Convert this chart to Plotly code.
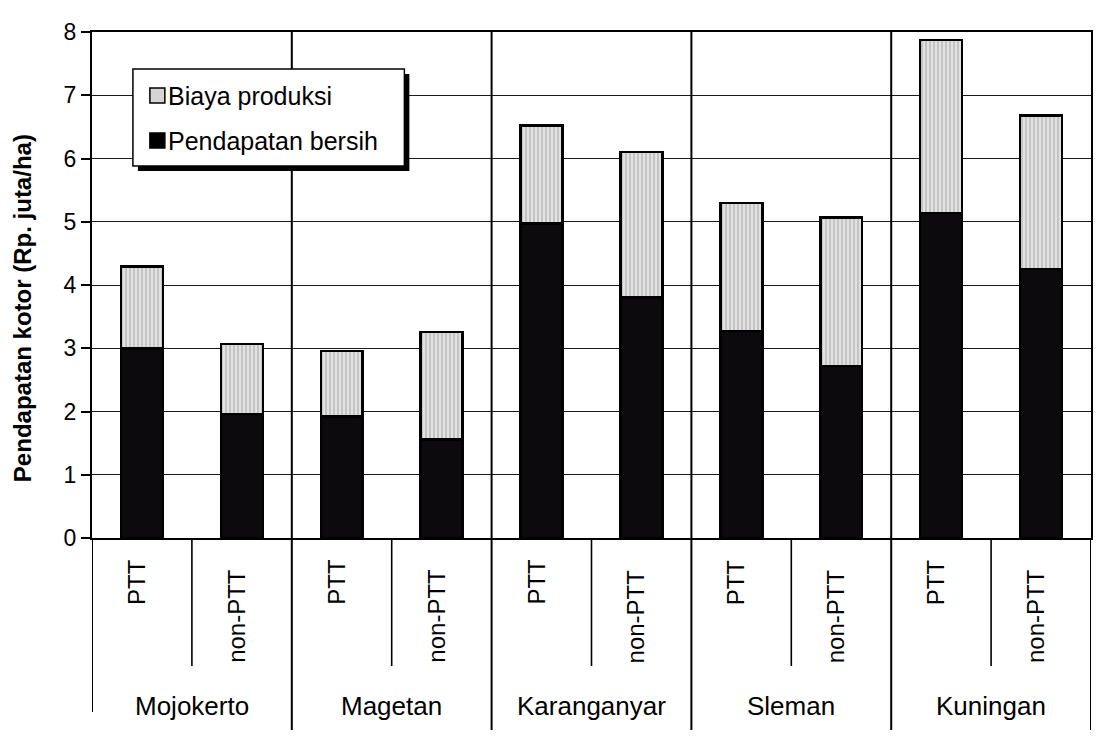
import plotly.graph_objects as go

# Data: gross income split into net income (bottom) and production cost (top), Rp. million/ha
regions = ["Mojokerto", "Magetan", "Karanganyar", "Sleman", "Kuningan"]
practices = ["PTT", "non-PTT"]
pendapatan_bersih = [3.00, 1.96, 1.92, 1.56, 4.97, 3.80, 3.27, 2.72, 5.14, 4.25]
biaya_produksi = [1.29, 1.11, 1.04, 1.70, 1.55, 2.30, 2.03, 2.35, 2.73, 2.43]
y_ticks = [0, 1, 2, 3, 4, 5, 6, 7, 8]
y_title = "Pendapatan kotor (Rp. juta/ha)"
legend_labels = ["Biaya produksi", "Pendapatan bersih"]

# Canvas and plot-area geometry (pixels)
W, H = 1105, 739
ML, MR, MT, MB = 92, 12, 32, 201
PW, PH = W - ML - MR, H - MT - MB
FONT = "Liberation Sans, Arial, sans-serif"

def px_x(px):
    return (px - ML) / PW

def px_y(py):
    return (H - MB - py) / PH

xs = list(range(len(pendapatan_bersih)))
sub_labels = [p for _ in regions for p in practices]

fig = go.Figure()
fig.add_trace(go.Bar(
    x=xs, y=pendapatan_bersih, name=legend_labels[1], width=0.42,
    marker=dict(color="#0c0a0c", line=dict(color="#000000", width=2.5)),
    showlegend=False,
))
fig.add_trace(go.Bar(
    x=xs, y=biaya_produksi, name=legend_labels[0], width=0.42,
    marker=dict(color="#dcdcdc", line=dict(color="#000000", width=2.5),
                pattern=dict(shape="|", fgcolor="#8a8a8a", bgcolor="#e2e2e2",
                             size=4, solidity=0.35)),
    showlegend=False,
))

shapes = []
n = len(xs)
# group dividers: through the plot and down through the category band
for g in range(1, len(regions)):
    xb = 2 * g - 0.5
    shapes.append(dict(type="line", xref="x", yref="paper", x0=xb, x1=xb,
                       y0=px_y(730), y1=1, line=dict(color="#000", width=2)))
# outer edges of the category band
shapes.append(dict(type="line", xref="x", yref="paper", x0=-0.5, x1=-0.5,
                   y0=px_y(712), y1=0, line=dict(color="#000", width=2)))
shapes.append(dict(type="line", xref="x", yref="paper", x0=n - 0.5, x1=n - 0.5,
                   y0=px_y(730), y1=0, line=dict(color="#000", width=2)))
# dividers between PTT and non-PTT labels
for g in range(len(regions)):
    xb = 2 * g + 0.5
    shapes.append(dict(type="line", xref="x", yref="paper", x0=xb, x1=xb,
                       y0=px_y(666), y1=0, line=dict(color="#000", width=1.6)))

# legend box with drop shadow
shapes.append(dict(type="rect", xref="paper", yref="paper",
                   x0=px_x(138), x1=px_x(410), y0=px_y(171), y1=px_y(74),
                   fillcolor="#000", line=dict(width=0)))
shapes.append(dict(type="rect", xref="paper", yref="paper",
                   x0=px_x(133), x1=px_x(405), y0=px_y(166), y1=px_y(69),
                   fillcolor="#ffffff", line=dict(color="#000", width=1.5)))
shapes.append(dict(type="rect", xref="paper", yref="paper",
                   x0=px_x(150), x1=px_x(165), y0=px_y(103), y1=px_y(88),
                   fillcolor="#d4d4d4", line=dict(color="#000", width=1.5)))
shapes.append(dict(type="rect", xref="paper", yref="paper",
                   x0=px_x(150), x1=px_x(165), y0=px_y(148), y1=px_y(133),
                   fillcolor="#000", line=dict(color="#000", width=1.5)))

annotations = []
for i, lab in enumerate(legend_labels):
    annotations.append(dict(x=px_x(166), y=px_y(96 + 45 * i), xref="paper", yref="paper",
                            text=lab, showarrow=False, xanchor="left", yanchor="middle",
                            font=dict(family=FONT, size=25, color="#000")))

# rotated practice labels
for i, lab in zip(xs, sub_labels):
    cy = 582 if lab == "PTT" else 616
    annotations.append(dict(x=i - 0.06, y=px_y(cy), xref="x", yref="paper", text=lab,
                            showarrow=False, textangle=-90, xanchor="center",
                            yanchor="middle", font=dict(family=FONT, size=24, color="#000")))
# region labels
for g, reg in enumerate(regions):
    annotations.append(dict(x=2 * g + 0.5, y=px_y(706), xref="x", yref="paper", text=reg,
                            showarrow=False, xanchor="center", yanchor="middle",
                            font=dict(family=FONT, size=26, color="#000")))
# y-axis title
annotations.append(dict(x=px_x(22), y=px_y(308), xref="paper", yref="paper",
                        text="<b>" + y_title + "</b>", showarrow=False, textangle=-90,
                        xanchor="center", yanchor="middle",
                        font=dict(family=FONT, size=24, color="#000")))

fig.update_layout(
    width=W, height=H, barmode="stack",
    margin=dict(l=ML, r=MR, t=MT, b=MB, pad=0),
    paper_bgcolor="#ffffff", plot_bgcolor="#ffffff",
    shapes=shapes, annotations=annotations, showlegend=False,
    xaxis=dict(range=[-0.5, n - 0.5], showticklabels=False, showgrid=False,
               zeroline=False, showline=True, mirror=True, linecolor="#000",
               linewidth=2, ticks=""),
    yaxis=dict(range=[0, 8], tickvals=y_ticks, showgrid=True, gridcolor="#1a1a1a",
               gridwidth=1.3, zeroline=False, showline=True, mirror=True,
               linecolor="#000", linewidth=2, ticks="outside", ticklen=9,
               tickwidth=1.5, tickcolor="#000",
               tickfont=dict(family=FONT, size=23, color="#000")),
)

fig.write_html("out.html")
